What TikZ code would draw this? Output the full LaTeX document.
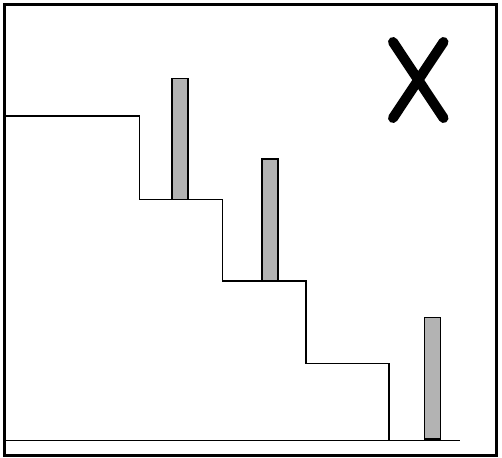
\documentclass[tikz,border=0pt]{standalone}
\begin{document}
\begin{tikzpicture}[x=1pt,y=-1pt,
  thinline/.style={line width=1.2pt,black},
  bar/.style={draw=black,line width=1.5pt,fill=barfill},
  frame/.style={line width=3pt,black},
  cross/.style={line width=10pt,line cap=round,black}]
\definecolor{barfill}{HTML}{B3B3B3}
\useasboundingbox (0,0) rectangle (502,457);
\draw[frame] (4.5,4.5) rectangle (496.5,455);
% staircase
\draw[thinline] (6,116) -- (139.5,116) -- (139.5,199.5) -- (222.5,199.5) -- (222.5,281) -- (306,281) -- (306,363.5) -- (389,363.5) -- (389,440.5);
\draw[thinline] (6,440.5) -- (460,440.5);
% bars
\draw[bar] (172,78.5) rectangle (188,199.5);
\draw[bar] (262,159) rectangle (278,280.5);
\draw[bar] (424.5,317.5) rectangle (440.5,439);
% cross
\draw[cross] (393,42) -- (443.5,118);
\draw[cross] (443.5,42) -- (393,118);
\end{tikzpicture}
\end{document}
